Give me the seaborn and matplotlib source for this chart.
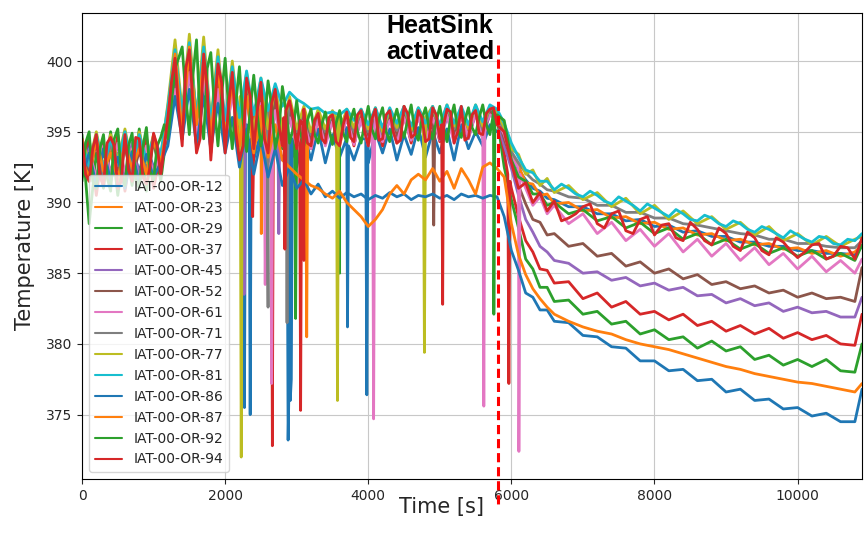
import pandas as pd
import matplotlib
matplotlib.use("Agg")
import matplotlib.pyplot as plt
import seaborn as sns

# sensor names (legend order = drawing order)
sensors = ["IAT-00-OR-12", "IAT-00-OR-23", "IAT-00-OR-29", "IAT-00-OR-37",
           "IAT-00-OR-45", "IAT-00-OR-52", "IAT-00-OR-61", "IAT-00-OR-71",
           "IAT-00-OR-77", "IAT-00-OR-81", "IAT-00-OR-86", "IAT-00-OR-87",
           "IAT-00-OR-92", "IAT-00-OR-94"]

# sample times [s]
t_pre = list(range(0, 5900, 100))
t_mid = list(range(50, 5800, 100))
t_post = [5900, 6000, 6100, 6200, 6300, 6400, 6500, 6600, 6800, 7000,
          7200, 7400, 7600, 7800, 8000, 8200, 8400, 8600, 8800, 9000,
          9200, 9400, 9600, 9800, 10000, 10200, 10400, 10600, 10800, 10900]
t_post_mid = list(range(6700, 10800, 200))

heatsink_t = 5820

# temperatures [K], before / after the heat sink
pre_12 = [392.5, 394.0, 391.8, 393.5, 392.0, 394.2, 391.5, 393.8, 392.2, 394.0, 392.5, 393.0,
          395.0, 398.5, 396.0, 399.0, 395.5, 398.0, 394.5, 397.5, 394.0,
          396.0, 393.5, 395.5, 393.0, 395.0, 392.8, 394.5, 393.0, 394.8,
          392.5, 395.0, 393.0, 395.2, 392.8, 394.8, 393.2, 395.3, 393.0,
          394.5, 392.8, 395.0, 393.5, 395.2, 393.0, 394.8, 393.4, 395.3,
          393.2, 395.0, 393.5, 395.2, 393.0, 395.5, 393.8, 395.0, 394.0, 395.5, 395.0]
post_12 = [395.2, 393.4, 392.3, 391.6, 391.0, 390.8, 390.3, 390.2, 389.7, 389.7,
           389.2, 389.2, 388.7, 388.8, 388.3, 388.4, 387.9, 388.0, 387.6, 387.6,
           387.2, 387.2, 386.9, 386.9, 386.6, 386.6, 386.4, 386.4, 386.3, 386.9]
dip_12 = [(2255, 394.5), (2270, 375.5), (2285, 395.0), (2335, 394.0), (2350, 375.0), (2365, 394.5),
          (2865, 394.0), (2880, 373.2), (2892, 376.8), (2910, 376.0), (2925, 377.5), (2940, 394.5),
          (3695, 394.5), (3710, 381.2), (3725, 394.0), (3965, 394.5), (3980, 376.4), (3995, 394.2)]

pre_23 = [393.5, 391.5, 394.8, 392.0, 393.8, 391.8, 394.5, 392.3, 394.0, 392.0, 394.8, 392.5,
          396.5, 400.0, 395.5, 401.2, 396.0, 400.8, 395.0, 400.0, 395.5,
          399.0, 394.5, 398.8, 394.0, 398.0, 394.5, 397.5, 394.0, 396.5,
          394.0, 396.0, 394.2, 395.8, 394.5, 396.0, 394.0, 396.2, 394.5,
          396.0, 394.3, 396.2, 394.5, 396.3, 394.2, 396.0, 394.6, 396.4,
          394.4, 396.2, 394.6, 396.5, 394.3, 396.4, 394.7, 396.6, 394.8, 396.7, 395.8]
post_23 = [395.4, 393.5, 392.6, 391.4, 391.3, 390.5, 390.6, 389.9, 390.0, 389.4,
           389.5, 388.9, 389.0, 388.5, 388.6, 388.1, 388.2, 387.7, 387.8, 387.3,
           387.4, 387.0, 387.1, 386.7, 386.8, 386.4, 386.6, 386.2, 386.5, 387.0]
dip_23 = [(2490, 395.0), (2505, 387.8), (2520, 395.5), (3125, 395.0), (3140, 380.5), (3155, 395.5)]

pre_29 = [394.8, 388.5, 393.5, 391.0, 395.0, 390.5, 394.2, 391.2, 395.2, 390.8, 394.5, 391.5,
          395.5, 400.5, 394.5, 401.0, 395.0, 400.2, 394.2, 399.8, 393.8,
          399.5, 394.0, 398.8, 393.5, 398.5, 394.2, 398.0, 393.8, 397.0,
          394.5, 396.5, 394.0, 396.2, 394.6, 396.0, 394.2, 396.3, 394.5,
          396.4, 394.3, 396.5, 394.5, 396.6, 394.4, 396.5, 394.8, 396.6,
          394.6, 396.5, 394.5, 396.7, 394.8, 396.5, 394.6, 396.8, 395.0, 396.6, 396.0]
post_29 = [392.5, 390.2, 388.2, 386.0, 385.3, 384.0, 384.0, 383.0, 383.1, 382.1,
           382.3, 381.4, 381.6, 380.7, 381.0, 380.3, 380.5, 379.7, 380.2, 379.5,
           379.8, 378.9, 379.2, 378.5, 378.9, 378.4, 378.9, 378.1, 378.0, 380.0]
dip_29 = [(2970, 396.0), (2985, 381.8), (3000, 395.0), (3585, 395.5), (3600, 385.0), (3615, 395.5)]

pre_37 = [393.0, 394.5, 390.5, 394.2, 391.5, 394.8, 390.8, 394.0, 391.2, 394.6, 391.0, 393.5,
          394.5, 399.5, 395.0, 400.5, 394.0, 400.0, 393.5, 399.0, 394.5,
          398.5, 393.5, 398.0, 394.0, 397.8, 393.5, 397.5, 394.2, 396.8,
          394.0, 396.2, 393.8, 396.0, 394.2, 396.1, 394.4, 396.0, 394.0,
          396.3, 394.5, 396.2, 394.0, 396.5, 394.6, 396.3, 394.2, 396.5,
          394.5, 396.4, 394.3, 396.6, 394.5, 396.3, 394.8, 396.5, 394.5, 396.4, 396.2]
post_37 = [393.5, 391.0, 389.0, 387.3, 386.5, 385.3, 385.2, 384.3, 384.4, 383.2,
           383.6, 382.6, 383.0, 382.1, 382.3, 381.7, 382.1, 381.3, 381.6, 380.9,
           381.3, 380.7, 381.1, 380.4, 380.8, 380.3, 380.6, 380.0, 379.9, 382.1]
dip_37 = [(2370, 397.0), (2385, 389.0), (2400, 396.5), (2645, 396.0), (2660, 372.8), (2675, 396.0),
          (3040, 395.5), (3055, 375.3), (3070, 395.0), (5950, 392.0), (5965, 377.2), (5980, 391.5)]

pre_45 = [392.0, 393.8, 391.5, 394.0, 392.2, 393.5, 391.8, 394.2, 392.0, 393.8, 392.4, 393.2,
          396.0, 398.5, 394.5, 399.5, 395.0, 399.0, 394.5, 398.5, 394.0,
          398.0, 394.0, 397.5, 393.8, 397.0, 394.0, 396.8, 394.2, 396.0,
          394.2, 395.8, 394.0, 396.0, 394.3, 395.8, 394.5, 396.0, 394.2,
          395.8, 394.4, 396.0, 394.6, 395.9, 394.3, 396.1, 394.5, 396.0,
          394.6, 396.2, 394.4, 396.0, 394.7, 396.2, 394.5, 396.3, 394.8, 396.2, 396.0]
post_45 = [394.0, 392.4, 390.5, 388.8, 387.9, 386.9, 386.5, 385.9, 385.7, 385.0,
           385.1, 384.5, 384.7, 384.1, 384.3, 383.8, 384.0, 383.4, 383.5, 382.9,
           383.2, 382.7, 382.9, 382.3, 382.6, 382.2, 382.3, 381.9, 381.9, 383.3]
dip_45 = [(2250, 396.0), (2265, 383.5), (2280, 396.5), (2735, 396.0), (2750, 387.8), (2765, 396.0)]

pre_52 = [393.8, 392.0, 394.2, 391.5, 393.5, 392.3, 394.0, 391.8, 393.6, 392.2, 394.3, 392.0,
          395.5, 399.0, 395.8, 400.0, 395.2, 399.5, 394.8, 399.0, 394.5,
          398.5, 394.5, 398.0, 394.2, 397.5, 394.5, 397.2, 394.0, 396.5,
          394.5, 396.0, 394.6, 396.2, 394.4, 396.0, 394.8, 396.2, 394.6,
          396.0, 394.8, 396.3, 394.7, 396.2, 394.5, 396.4, 394.9, 396.2,
          394.8, 396.3, 394.6, 396.4, 394.9, 396.5, 394.7, 396.3, 395.0, 396.5, 396.2]
post_52 = [394.5, 393.0, 391.2, 389.9, 388.8, 388.6, 387.7, 387.8, 386.9, 387.1,
           386.2, 386.4, 385.5, 385.8, 385.0, 385.3, 384.6, 384.9, 384.2, 384.4,
           383.9, 384.1, 383.6, 383.8, 383.3, 383.6, 383.2, 383.3, 383.0, 385.4]
dip_52 = [(4900, 395.5), (4915, 388.4), (4930, 395.5)]

pre_61 = [392.5, 393.5, 391.8, 394.0, 392.0, 394.2, 392.2, 393.8, 391.5, 394.0, 392.0, 393.5,
          395.0, 398.0, 395.5, 399.2, 394.8, 398.8, 394.0, 398.0, 394.2,
          397.8, 393.8, 397.5, 394.0, 397.0, 393.6, 396.5, 394.0, 396.0,
          394.0, 395.8, 393.8, 395.9, 394.0, 395.7, 394.2, 396.0, 394.1,
          395.9, 394.0, 396.1, 394.3, 395.8, 394.2, 396.0, 394.4, 396.1,
          394.3, 396.0, 394.5, 396.2, 394.2, 396.1, 394.6, 396.3, 394.5, 396.2, 395.8]
post_61 = [394.8, 393.2, 391.4, 391.0, 389.8, 390.4, 389.2, 389.8, 388.5, 389.2,
           387.8, 388.6, 387.3, 388.1, 386.9, 387.8, 386.5, 387.4, 386.2, 387.1,
           385.9, 386.8, 385.6, 386.4, 385.3, 386.2, 385.1, 385.9, 385.0, 386.0]
dip_61 = [(2545, 395.5), (2560, 384.2), (2575, 395.0), (2635, 395.5), (2650, 377.2), (2665, 395.0),
          (4060, 395.0), (4075, 374.7), (4090, 395.0), (5600, 395.5), (5615, 375.6), (5630, 395.5),
          (6090, 392.5), (6105, 372.4), (6120, 392.0)]

pre_71 = [394.0, 392.5, 394.5, 392.0, 394.2, 392.6, 394.4, 392.2, 394.6, 392.4, 394.5, 393.0,
          396.5, 400.5, 396.0, 401.2, 395.8, 400.8, 395.5, 400.0, 395.0,
          399.5, 395.0, 399.0, 394.8, 398.5, 395.0, 398.0, 394.6, 397.2,
          395.0, 396.6, 394.8, 396.4, 395.0, 396.3, 394.9, 396.5, 395.0,
          396.5, 395.0, 396.6, 394.8, 396.5, 395.1, 396.7, 395.0, 396.6,
          395.2, 396.7, 395.0, 396.8, 395.2, 396.6, 395.3, 396.8, 395.1, 396.7, 396.3]
post_71 = [395.0, 393.6, 392.8, 392.1, 391.6, 391.3, 390.9, 390.8, 390.4, 390.3,
           389.8, 389.8, 389.3, 389.3, 388.9, 388.9, 388.5, 388.4, 388.2, 388.0,
           387.8, 387.7, 387.4, 387.4, 387.1, 387.1, 386.9, 386.8, 386.8, 387.3]
dip_71 = [(2585, 397.0), (2600, 382.6), (2615, 396.5), (2850, 396.5), (2865, 381.5), (2880, 396.0)]

pre_77 = [394.5, 392.8, 395.0, 392.5, 394.8, 393.0, 395.2, 392.6, 395.0, 392.8, 394.8, 393.2,
          397.0, 401.5, 396.5, 401.9, 396.0, 401.7, 395.8, 400.8, 395.5,
          400.0, 395.5, 399.2, 395.0, 398.8, 395.2, 398.2, 395.0, 397.5,
          395.2, 396.8, 395.0, 396.6, 395.2, 396.5, 395.0, 396.6, 395.3,
          396.6, 395.2, 396.7, 395.0, 396.6, 395.3, 396.8, 395.1, 396.7,
          395.3, 396.8, 395.2, 396.9, 395.4, 396.7, 395.2, 396.9, 395.4, 396.8, 396.4]
post_77 = [395.3, 393.8, 393.4, 392.0, 392.3, 391.2, 391.7, 390.7, 391.2, 390.2,
           390.7, 389.7, 390.3, 389.2, 389.8, 388.8, 389.4, 388.5, 389.0, 388.1,
           388.6, 387.7, 388.3, 387.3, 387.8, 387.0, 387.6, 386.9, 387.4, 387.6]
dip_77 = [(2210, 397.5), (2225, 372.0), (2240, 397.0), (3555, 396.0), (3570, 376.0), (3585, 396.0),
          (4770, 396.0), (4785, 379.4), (4800, 396.0)]

pre_81 = [394.2, 392.6, 394.8, 392.4, 394.5, 392.8, 395.0, 392.5, 394.8, 393.0, 394.6, 393.4,
          396.8, 400.8, 396.2, 401.3, 396.0, 401.0, 395.6, 400.3, 395.8,
          399.6, 396.0, 399.3, 396.2, 398.8, 396.5, 398.4, 396.8, 397.8,
          397.3, 397.0, 396.6, 396.7, 396.3, 396.4, 396.2, 396.6, 395.8,
          396.6, 395.5, 396.7, 395.3, 396.7, 395.6, 396.8, 395.4, 396.7,
          395.6, 396.8, 395.5, 396.9, 395.6, 396.8, 395.5, 396.9, 395.7, 396.9, 396.6]
post_81 = [395.6, 394.2, 393.2, 392.3, 392.1, 391.5, 391.5, 390.9, 391.0, 390.4,
           390.5, 389.9, 390.1, 389.4, 389.6, 389.0, 389.2, 388.7, 388.9, 388.3,
           388.5, 387.9, 388.1, 387.5, 387.7, 387.2, 387.5, 387.0, 387.3, 387.8]
post_mid_81 = [391.3, 390.6, 390.8, 390.1, 390.4, 389.8, 389.9, 389.3, 389.5, 388.8, 389.1,
               388.5, 388.7, 388.1, 388.3, 387.8, 388.0, 387.4, 387.6, 387.1, 387.4]
dip_81 = []

pre_86 = [391.8, 393.5, 391.2, 393.8, 391.5, 393.2, 391.0, 393.6, 391.4, 393.4, 391.8, 392.8,
          394.0, 397.5, 394.5, 398.0, 394.0, 397.5, 393.8, 397.0, 393.5,
          396.0, 392.5, 395.2, 392.0, 394.5, 391.8, 393.8, 391.2, 392.5,
          391.0, 391.6, 390.6, 391.3, 390.4, 390.8, 390.3, 390.7, 390.4,
          390.6, 390.2, 390.5, 390.3, 390.7, 390.4, 390.6, 390.2, 390.5,
          390.4, 390.6, 390.3, 390.5, 390.2, 390.6, 390.4, 390.5, 390.3, 390.5, 390.4]
post_86 = [389.0, 386.6, 385.2, 383.6, 383.3, 382.4, 382.4, 381.6, 381.5, 380.6,
           380.5, 379.8, 379.7, 378.8, 378.8, 378.1, 378.2, 377.4, 377.5, 376.6,
           376.8, 376.0, 376.1, 375.4, 375.5, 374.9, 375.1, 374.5, 374.5, 376.8]
dip_86 = []

pre_87 = [393.0, 391.8, 394.5, 392.2, 393.5, 391.6, 394.2, 392.4, 393.8, 392.0, 394.4, 392.6,
          396.0, 400.5, 395.0, 401.0, 395.5, 400.2, 394.8, 399.5, 394.5,
          398.5, 394.0, 397.5, 393.5, 396.8, 393.2, 395.5, 393.0, 392.5,
          392.0, 391.6, 391.2, 391.0, 390.6, 390.3, 390.8, 390.0, 389.5,
          389.0, 388.3, 388.8, 389.5, 390.6, 391.2, 390.6, 391.6, 392.0,
          391.6, 392.4, 391.5, 392.2, 391.0, 392.4, 391.6, 390.6, 392.5, 392.8, 392.4]
post_87 = [391.8, 388.5, 386.3, 384.9, 383.9, 383.2, 382.6, 382.1, 381.6, 381.2,
           380.9, 380.7, 380.3, 380.0, 379.8, 379.6, 379.3, 379.0, 378.7, 378.4,
           378.2, 377.9, 377.7, 377.5, 377.3, 377.2, 377.0, 376.8, 376.6, 377.2]
dip_87 = []

pre_92 = [391.5, 395.0, 391.0, 394.8, 390.8, 395.2, 391.2, 394.9, 391.0, 395.3, 391.6, 394.6,
          394.5, 399.5, 401.0, 394.8, 401.5, 394.5, 400.6, 394.0, 400.2,
          393.8, 399.6, 393.6, 399.0, 394.0, 398.6, 393.8, 398.2, 394.2,
          397.2, 394.0, 396.6, 394.2, 396.4, 394.1, 396.5, 394.3, 396.6,
          394.2, 396.8, 394.5, 396.7, 394.3, 396.6, 394.6, 396.9, 394.4,
          396.7, 394.5, 396.8, 394.3, 396.9, 394.6, 396.7, 394.8, 396.9, 394.8, 396.2]
mid_92 = [394.2, 391.5, 393.8, 391.8, 394.5, 392.0, 394.0, 391.6, 393.9, 392.2, 394.0,
          395.5,
          397.0, 400.2, 397.5, 399.0, 396.0, 399.5, 396.8, 397.5,
          396.5, 397.0, 395.8, 396.5, 396.2, 395.5, 396.8, 395.0, 396.5, 395.2,
          395.0, 395.8, 394.8, 395.5, 395.2, 395.6, 394.9, 395.8, 395.0, 395.6,
          395.2, 395.9, 395.0, 395.7, 395.4, 395.8, 395.0, 395.9, 395.3, 395.7,
          395.4, 395.9, 395.1, 395.8, 395.3, 396.0, 395.5, 396.5]
post_92 = [395.8, 393.0, 391.8, 391.5, 390.6, 390.6, 389.8, 390.0, 389.2, 389.5,
           388.7, 389.0, 388.2, 388.6, 387.8, 388.2, 387.4, 387.8, 387.0, 387.4,
           386.7, 387.1, 386.4, 386.8, 386.2, 386.6, 386.0, 386.4, 385.9, 387.0]
dip_92 = [(5740, 396.0), (5755, 382.1), (5770, 395.8)]

pre_94 = [394.5, 391.5, 394.8, 391.2, 394.6, 391.0, 394.8, 391.5, 394.5, 391.3, 394.9, 392.0,
          396.0, 400.2, 394.0, 400.8, 393.5, 400.5, 393.0, 399.8, 393.5,
          399.2, 393.0, 398.8, 393.8, 398.5, 393.5, 398.0, 394.0, 397.2,
          393.8, 396.6, 394.0, 396.3, 394.2, 396.2, 394.0, 396.4, 394.3,
          396.5, 394.0, 396.6, 394.5, 396.5, 394.2, 396.8, 394.6, 396.5,
          394.3, 396.7, 394.5, 396.6, 394.2, 396.8, 394.6, 396.5, 394.8, 396.6, 395.5]
mid_94 = [392.0, 393.8, 391.8, 394.2, 394.0, 391.5, 392.3, 394.6, 391.8, 392.5, 394.0,
          394.0,
          398.5, 396.5, 399.5, 397.0, 394.5, 398.0, 396.5, 398.5,
          397.0, 395.0, 394.0, 397.5, 396.5, 394.5, 397.0, 395.5, 394.5, 396.0,
          395.8, 394.2, 395.8, 394.5, 396.0, 394.3, 395.5, 394.6, 396.2, 395.0,
          395.9, 394.4, 396.2, 395.0, 394.4, 396.3, 394.8, 396.0, 394.5, 396.2,
          394.6, 396.4, 395.0, 394.4, 396.2, 394.9, 396.3, 396.7]
post_94 = [395.0, 392.8, 391.0, 391.4, 390.0, 390.7, 389.4, 390.1, 388.9, 389.7,
           388.5, 389.2, 388.0, 388.8, 387.7, 388.5, 387.3, 388.1, 387.0, 387.8,
           386.6, 387.5, 386.3, 387.2, 386.1, 387.0, 386.0, 386.9, 386.0, 387.5]
post_mid_94 = [388.7, 389.2, 389.9, 388.2, 389.4, 387.8, 389.0, 388.4, 387.5, 388.6, 387.3,
               388.2, 386.9, 387.9, 386.6, 387.5, 386.6, 386.5, 387.1, 386.2, 386.8]
dip_94 = [(2820, 396.0), (2835, 386.7), (2850, 396.5), (3085, 395.5), (3100, 385.9), (3115, 395.5),
          (5025, 395.5), (5040, 382.8), (5055, 395.5)]

series = {
    "IAT-00-OR-12": [(t_pre, pre_12), (t_post, post_12)] + [([t], [v]) for t, v in dip_12],
    "IAT-00-OR-23": [(t_pre, pre_23), (t_post, post_23)] + [([t], [v]) for t, v in dip_23],
    "IAT-00-OR-29": [(t_pre, pre_29), (t_post, post_29)] + [([t], [v]) for t, v in dip_29],
    "IAT-00-OR-37": [(t_pre, pre_37), (t_post, post_37)] + [([t], [v]) for t, v in dip_37],
    "IAT-00-OR-45": [(t_pre, pre_45), (t_post, post_45)] + [([t], [v]) for t, v in dip_45],
    "IAT-00-OR-52": [(t_pre, pre_52), (t_post, post_52)] + [([t], [v]) for t, v in dip_52],
    "IAT-00-OR-61": [(t_pre, pre_61), (t_post, post_61)] + [([t], [v]) for t, v in dip_61],
    "IAT-00-OR-71": [(t_pre, pre_71), (t_post, post_71)] + [([t], [v]) for t, v in dip_71],
    "IAT-00-OR-77": [(t_pre, pre_77), (t_post, post_77)] + [([t], [v]) for t, v in dip_77],
    "IAT-00-OR-81": [(t_pre, pre_81), (t_post, post_81), (t_post_mid, post_mid_81)],
    "IAT-00-OR-86": [(t_pre, pre_86), (t_post, post_86)],
    "IAT-00-OR-87": [(t_pre, pre_87), (t_post, post_87)],
    "IAT-00-OR-92": [(t_pre, pre_92), (t_mid, mid_92), (t_post, post_92)]
                    + [([t], [v]) for t, v in dip_92],
    "IAT-00-OR-94": [(t_pre, pre_94), (t_mid, mid_94), (t_post, post_94), (t_post_mid, post_mid_94)]
                    + [([t], [v]) for t, v in dip_94],
}

# long format table for seaborn
rows = []
for name, parts in series.items():
    for times, vals in parts:
        assert len(times) == len(vals), name
        for t, v in zip(times, vals):
            rows.append((name, t, v))
df = pd.DataFrame(rows, columns=["sensor", "time", "temp"])

sns.set_style("ticks", {"axes.grid": True, "axes.edgecolor": "black",
                        "grid.color": "#c8c8c8"})
plt.rcParams["font.family"] = ["DejaVu Sans"]

fig, ax = plt.subplots(figsize=(8.66, 5.4), dpi=100)
fig.subplots_adjust(left=0.0947, right=0.9954, top=0.976, bottom=0.113)

pal = sns.color_palette("tab10", 10)
pal = pal + pal[:4]

sns.lineplot(data=df, x="time", y="temp", hue="sensor", hue_order=sensors,
             palette=pal, estimator=None, sort=True, linewidth=2.0, ax=ax)

ax.set_xlim(0, 10900)
ax.set_ylim(370.45, 403.4)
ax.set_yticks([375, 380, 385, 390, 395, 400])
ax.tick_params(labelsize=10)

ax.set_ylabel("Temperature [K]", fontsize=15)
ax.yaxis.set_label_coords(-0.06, 0.5)
ax.set_xlabel("Time [s]", fontsize=15)
ax.xaxis.set_label_coords(0.4615, -0.038)

sns.move_legend(ax, "lower left", title=None, fontsize=10, frameon=True)
for h in ax.get_legend().legend_handles:
    h.set_linewidth(1.5)

# heat sink marker
ax.plot([heatsink_t, heatsink_t], [401.1, 368.5], color="red", linestyle=(0, (3, 1.6)),
        linewidth=2.2, clip_on=False, zorder=5)
fig.text(0.508, 1 - 14 / 540, "HeatSink\nactivated", ha="center", va="top", color="black",
         fontsize=18, fontweight="bold", family=["Liberation Sans", "DejaVu Sans"],
         linespacing=1.1)

plt.savefig("out.png", dpi=100)
